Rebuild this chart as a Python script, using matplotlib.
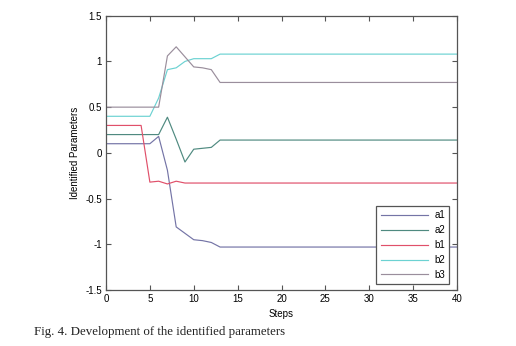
import numpy as np
import matplotlib
matplotlib.use('Agg')
import matplotlib.pyplot as plt

# identified parameters per step
steps = np.arange(0, 41)
a1_start = [0.10, 0.10, 0.10, 0.10, 0.10, 0.10, 0.18, -0.19, -0.81, -0.88, -0.95, -0.96, -0.98]
a2_start = [0.20, 0.20, 0.20, 0.20, 0.20, 0.20, 0.20, 0.39, 0.15, -0.10, 0.04, 0.05, 0.06]
b1_start = [0.30, 0.30, 0.30, 0.30, 0.30, -0.32, -0.31, -0.34, -0.31, -0.33, -0.33, -0.33, -0.33]
b2_start = [0.40, 0.40, 0.40, 0.40, 0.40, 0.40, 0.60, 0.91, 0.93, 1.00, 1.03, 1.03, 1.03]
b3_start = [0.50, 0.50, 0.50, 0.50, 0.50, 0.50, 0.50, 1.06, 1.16, 1.05, 0.94, 0.93, 0.91]
# values they settle at from step 13 on
a1_final = -1.03
a2_final = 0.14
b1_final = -0.33
b2_final = 1.08
b3_final = 0.77

labels = ['a1', 'a2', 'b1', 'b2', 'b3']
colors = ['#7474a6', '#4f8a80', '#e0506a', '#6cd2d2', '#9a8e9c']

def full_series(start, final):
    return np.array(start + [final] * (len(steps) - len(start)))

series = [
    full_series(a1_start, a1_final),
    full_series(a2_start, a2_final),
    full_series(b1_start, b1_final),
    full_series(b2_start, b2_final),
    full_series(b3_start, b3_final),
]

plt.rcParams['font.family'] = ['Liberation Sans', 'DejaVu Sans']

fig = plt.figure(figsize=(5.16, 3.46), dpi=100)
ax = fig.add_axes([0.2054, 0.1618, 0.6803, 0.7928])

for s, lab, c in zip(series, labels, colors):
    ax.plot(steps, s, color=c, linewidth=0.85, label=lab)

ax.set_xlim(0, 40)
ax.set_ylim(-1.5, 1.5)
ax.set_xticks(np.arange(0, 41, 5))
ax.set_yticks([-1.5, -1, -0.5, 0, 0.5, 1, 1.5])
ax.set_yticklabels(['-1.5', '-1', '-0.5', '0', '0.5', '1', '1.5'])
ax.tick_params(direction='in', length=3.5, width=0.8, labelsize=7,
               top=True, right=True, color='#555555', pad=3)
for sp in ax.spines.values():
    sp.set_color('#555555')
    sp.set_linewidth(0.9)

ax.set_xlabel('Steps', fontsize=7, labelpad=3.5)
ax.set_ylabel('Identified Parameters', fontsize=7, labelpad=4)

leg = ax.legend(loc='lower right', bbox_to_anchor=(0.978, 0.021), borderaxespad=0,
                fontsize=7, fancybox=False, framealpha=1, edgecolor='#555555',
                handlelength=4.9, labelspacing=0.5, borderpad=0.45, handletextpad=0.6)
leg.get_frame().set_linewidth(0.9)

fig.text(0.066, 0.032, 'Fig. 4. Development of the identified parameters',
         fontsize=9.3, family=['Liberation Serif', 'DejaVu Serif'], color='#222222')

plt.savefig('out.png', dpi=100)
